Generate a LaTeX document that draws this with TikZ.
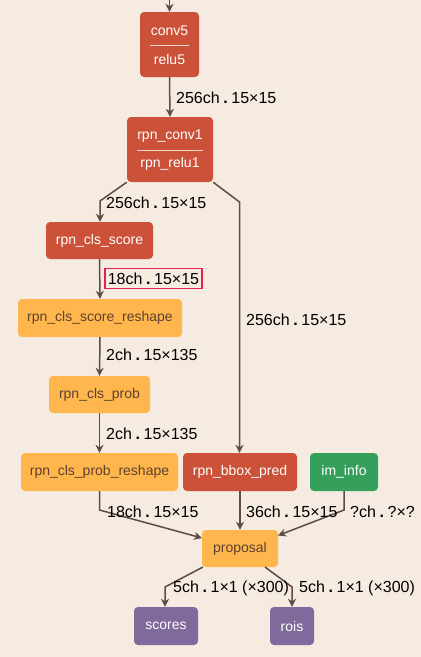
\documentclass[tikz,border=0pt]{standalone}
\usepackage{fontspec}
\setmainfont{Liberation Sans}
\usetikzlibrary{arrows.meta,calc}
\definecolor{bgc}{HTML}{F6EBE1}
\definecolor{redn}{HTML}{CB5239}
\definecolor{yeln}{HTML}{FFB74D}
\definecolor{grnn}{HTML}{35A05B}
\definecolor{purn}{HTML}{80699B}
\definecolor{edgec}{HTML}{5E4B43}
\definecolor{ytxt}{HTML}{5D4030}
\definecolor{hl}{HTML}{E8204A}
\tikzset{
  base/.style={rounded corners=4pt, inner sep=0pt, align=center, font=\fontsize{14}{16}\selectfont},
  rednode/.style={base, fill=redn, text=white},
  yelnode/.style={base, fill=yeln, text=ytxt},
  grnnode/.style={base, fill=grnn, text=white},
  purnode/.style={base, fill=purn, text=white},
  conn/.style={draw=edgec, line width=1.5pt, -{Stealth[length=8pt,width=8pt,inset=2.5pt]}},
  lbl/.style={anchor=west, inner sep=0pt, font=\fontsize{16}{18}\selectfont, text=black},
  divider/.style={draw=white!75!redn, line width=0.8pt},
  twotxt/.style={text=white, font=\fontsize{14}{16}\selectfont}
}
\newcommand{\dt}{\hspace{3.6pt}{\bfseries .}\hspace{3.6pt}}
\begin{document}
\begin{tikzpicture}[x=1pt,y=-1pt]
\fill[bgc] (0,0) rectangle (421,657);
\useasboundingbox (0,0) rectangle (421,657);

% nodes
\node[rednode, minimum width=59, minimum height=65] (conv5) at (169.5,44.5) {};
\draw[divider] (150,45) -- (189,45);
\node[twotxt] (conv5t) at (169.5,31) {conv5};
\node[twotxt] (relu5t) at (169.5,59) {relu5};

\node[rednode, minimum width=86, minimum height=65] (rpnconv) at (170,149.5) {};
\draw[divider] (137,150) -- (203,150);
\node[twotxt] (rpnconvt) at (170,136) {rpn\_conv1};
\node[twotxt] (rpnrelut) at (170,164) {rpn\_relu1};

\node[rednode, minimum width=107, minimum height=37] (clsscore) at (99.5,240.5) {rpn\_cls\_score};
\node[yelnode, minimum width=164, minimum height=38] (clsreshape) at (100,318) {rpn\_cls\_score\_reshape};
\node[yelnode, minimum width=101, minimum height=37] (clsprob) at (99.5,394.5) {rpn\_cls\_prob};
\node[yelnode, minimum width=157, minimum height=38] (probreshape) at (99.5,472) {rpn\_cls\_prob\_reshape};
\node[rednode, minimum width=114, minimum height=38] (bbox) at (240,472) {rpn\_bbox\_pred};
\node[grnnode, minimum width=68, minimum height=38] (iminfo) at (344,472) {im\_info};
\node[yelnode, minimum width=76, minimum height=37] (proposal) at (240,548.5) {proposal};
\node[purnode, minimum width=64, minimum height=38] (scores) at (166,626) {scores};
\node[purnode, minimum width=44, minimum height=38] (rois) at (292,626) {rois};

% coordinates
\coordinate (top) at (169.5,0);
\coordinate (b1) at (100,201);
\coordinate (b2) at (239.5,202);
\coordinate (b3) at (99.5,510);
\coordinate (b4) at (344,510);
\coordinate (b5) at (165,587);
\coordinate (b6) at (292,587);
\coordinate (pin1) at (202,538);
\coordinate (pin2) at (278,535.5);
\coordinate (pout1) at (203,567);
\coordinate (pout2) at (265,567);

% connectors
\draw[conn] (top) -- (conv5.north);
\draw[conn] (conv5.south) -- (rpnconv.north);
\draw[conn] (rpnconv.south west) -- (b1) -- (b1 |- clsscore.north);
\draw[conn] (rpnconv.south east) -- (b2) -- (b2 |- bbox.north);
\draw[conn] (clsscore.south) -- (clsreshape.north);
\draw[conn] (clsreshape.south) -- (clsprob.north);
\draw[conn] (clsprob.south) -- (probreshape.north);
\draw[conn] (probreshape.south) -- (b3) -- (pin1);
\draw[conn] (bbox.south) -- (proposal.north);
\draw[conn] (iminfo.south) -- (b4) -- (pin2);
\draw[conn] (pout1) -- (b5) -- (b5 |- scores.north);
\draw[conn] (pout2) -- (b6) -- (b6 |- rois.north);

% labels
\node[lbl] (l1) at (176,98) {256ch\dt 15×15};
\node[lbl] (l2) at (106,202.5) {256ch\dt 15×15};
\node[lbl] (l3) at (246,320) {256ch\dt 15×15};
\node[lbl, draw=hl, line width=1.6pt, inner xsep=3pt, inner ysep=4pt] (l4) at (104,278.5) {18ch\dt 15×15};
\node[lbl] (l5) at (106,355) {2ch\dt 15×135};
\node[lbl] (l6) at (106,434) {2ch\dt 15×135};
\node[lbl] (l7) at (107,511.5) {18ch\dt 15×15};
\node[lbl] (l8) at (246,511.5) {36ch\dt 15×15};
\node[lbl] (l9) at (350,511.5) {?ch\dt ?×?};
\node[lbl] (l10) at (173,588) {5ch\dt 1×1 (×300)};
\node[lbl] (l11) at (299,588) {5ch\dt 1×1 (×300)};
\end{tikzpicture}
\end{document}
